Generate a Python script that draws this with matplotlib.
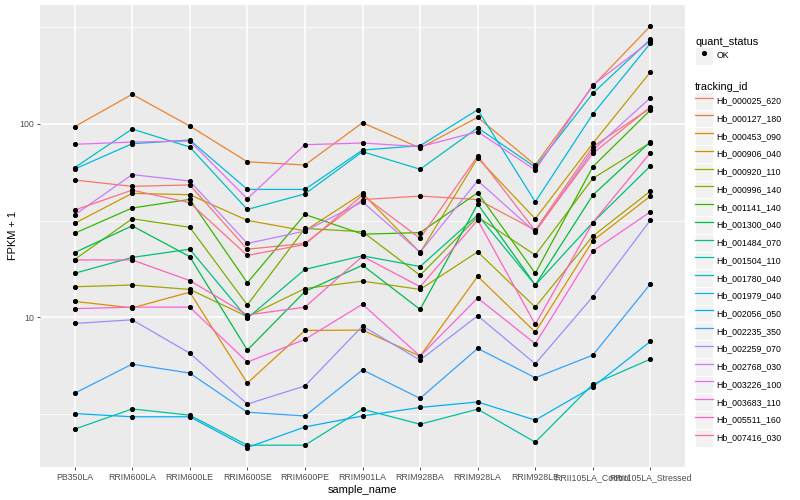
import matplotlib
matplotlib.use("Agg")
import matplotlib.pyplot as plt
from matplotlib.lines import Line2D
from matplotlib.patches import Rectangle
from matplotlib.legend_handler import HandlerLine2D
from matplotlib.ticker import NullFormatter

plt.rcParams['font.family'] = ['Liberation Sans', 'DejaVu Sans']

# samples on the x axis
samples = ["PB350LA", "RRIM600LA", "RRIM600LE", "RRIM600SE", "RRIM600PE",
           "RRIM901LA", "RRIM928BA", "RRIM928LA", "RRIM928LE",
           "RRII105LA_Control", "RRII105LA_Stressed"]

tracking_ids = ["Hb_000025_620", "Hb_000127_180", "Hb_000453_090", "Hb_000906_040",
                "Hb_000920_110", "Hb_000996_140", "Hb_001141_140", "Hb_001300_040",
                "Hb_001484_070", "Hb_001504_110", "Hb_001780_040", "Hb_001979_040",
                "Hb_002056_050", "Hb_002235_350", "Hb_002259_070", "Hb_002768_030",
                "Hb_003226_100", "Hb_003683_110", "Hb_005511_160", "Hb_007416_030"]

# ggplot default hue palette, 20 levels
palette = ["#F8766D", "#EA8331", "#D89000", "#C09B00", "#A3A500", "#7CAE00",
           "#39B600", "#00BB4E", "#00BF7D", "#00C1A3", "#00BFC4", "#00BAE0",
           "#00B0F6", "#35A2FF", "#9590FF", "#C77CFF", "#E76BF3", "#FA62DB",
           "#FF62BC", "#FF6C91"]

# FPKM + 1
hb_000025_620 = [51.2, 47.5, 48.3, 22.5, 24.1, 40.6, 42.3, 40.6, 28.2, 76.1, 120.5]
hb_000127_180 = [96.5, 141.8, 97.3, 63.6, 61.2, 101.2, 74.9, 107.9, 61.2, 156.6, 319.6]
hb_000453_090 = [12.1, 11.2, 13.5, 4.58, 8.57, 8.6, 6.31, 16.3, 8.4, 24.9, 42.3]
hb_000906_040 = [30.6, 43.7, 43.0, 31.7, 28.0, 43.7, 21.6, 66.5, 32.3, 79.2, 184.9]
hb_000920_110 = [14.4, 14.7, 13.95, 10.1, 14.1, 15.4, 13.95, 21.8, 11.3, 26.3, 44.9]
hb_000996_140 = [19.9, 32.3, 29.2, 11.6, 28.8, 27.7, 16.5, 33.0, 21.0, 52.2, 79.8]
hb_001141_140 = [27.2, 36.7, 40.7, 15.1, 34.0, 26.9, 27.4, 44.0, 16.9, 60.0, 117.7]
hb_001300_040 = [21.6, 29.7, 20.6, 6.78, 13.6, 18.6, 11.0, 38.5, 14.7, 42.8, 80.7]
hb_001484_070 = [16.9, 20.4, 22.5, 9.9, 17.7, 20.8, 18.3, 33.8, 14.7, 30.9, 60.5]
hb_001504_110 = [2.65, 3.37, 3.13, 2.19, 2.19, 3.36, 2.81, 3.36, 2.27, 4.52, 6.09]
hb_001780_040 = [59.3, 93.9, 75.8, 36.1, 43.4, 71.7, 58.2, 95.3, 59.7, 143.5, 272.9]
hb_001979_040 = [58.3, 78.8, 82.4, 45.8, 45.8, 73.1, 77.0, 118.1, 39.5, 112.2, 260.2]
hb_002056_050 = [3.19, 3.07, 3.07, 2.13, 2.72, 3.10, 3.43, 3.66, 2.95, 4.38, 7.52]
hb_002235_350 = [4.06, 5.74, 5.16, 3.24, 3.10, 5.36, 3.82, 6.92, 4.88, 6.39, 14.9]
hb_002259_070 = [9.31, 9.72, 6.54, 3.57, 4.43, 9.02, 6.02, 10.2, 5.76, 12.8, 31.8]
hb_002768_030 = [33.8, 54.6, 50.6, 24.1, 27.9, 39.5, 21.7, 50.8, 27.6, 73.1, 136.2]
hb_003226_100 = [78.3, 80.4, 81.4, 41.0, 77.9, 79.5, 76.1, 90.9, 57.7, 158.5, 267.4]
hb_003683_110 = [11.1, 11.3, 11.3, 5.88, 7.7, 11.7, 6.31, 12.6, 7.31, 22.0, 35.1]
hb_005511_160 = [19.8, 19.8, 15.5, 10.3, 11.3, 20.7, 14.4, 31.8, 9.2, 30.9, 70.8]
hb_007416_030 = [35.8, 45.4, 39.1, 20.9, 23.8, 42.8, 25.6, 68.1, 28.0, 70.3, 122.0]

fpkm = [hb_000025_620, hb_000127_180, hb_000453_090, hb_000906_040, hb_000920_110,
        hb_000996_140, hb_001141_140, hb_001300_040, hb_001484_070, hb_001504_110,
        hb_001780_040, hb_001979_040, hb_002056_050, hb_002235_350, hb_002259_070,
        hb_002768_030, hb_003226_100, hb_003683_110, hb_005511_160, hb_007416_030]


class KeyHandler(HandlerLine2D):
    # grey ggplot-like legend key behind the line
    def create_artists(self, legend, orig_handle, xdescent, ydescent,
                       width, height, fontsize, trans):
        bg = Rectangle((-xdescent, -ydescent), width, height,
                       facecolor="#F2F2F2", edgecolor="white", lw=0.7,
                       transform=trans)
        arts = super().create_artists(legend, orig_handle, xdescent, ydescent,
                                      width, height, fontsize, trans)
        return [bg] + list(arts)


fig = plt.figure(figsize=(8, 5), dpi=100)
ax = fig.add_axes([40 / 800, 33 / 500, 645 / 800, 462 / 500])
ax.set_facecolor("#EBEBEB")
for s in ax.spines.values():
    s.set_visible(False)

x = list(range(len(samples)))
for vals, col in zip(fpkm, palette):
    ax.plot(x, vals, color=col, lw=0.9, zorder=2)
for vals in fpkm:
    ax.plot(x, vals, ls="none", marker="o", color="black", ms=2.7, zorder=3)

ax.set_yscale("log")
ax.set_ylim(1.69, 410)
ax.set_xlim(-0.6, len(samples) - 0.4)
ax.set_yticks([10, 100])
ax.set_yticklabels(["10", "100"])
ax.set_yticks([10 ** 0.5, 10 ** 1.5, 10 ** 2.5], minor=True)
ax.yaxis.set_minor_formatter(NullFormatter())
ax.set_xticks(x)
ax.set_xticklabels(samples)

ax.grid(True, which="major", color="white", lw=1.1, zorder=0)
ax.grid(True, which="minor", axis="y", color="white", lw=0.55, zorder=0)
ax.set_axisbelow(True)
ax.tick_params(which="major", length=2.2, width=0.6, color="#333333",
               labelsize=6.3, labelcolor="#4D4D4D", pad=2)
ax.tick_params(which="minor", length=0)

ax.set_xlabel("sample_name", fontsize=7.9, labelpad=2)
ax.set_ylabel("FPKM + 1", fontsize=7.9, labelpad=1)

hmap = {Line2D: KeyHandler(numpoints=1)}
ok = Line2D([], [], ls="none", marker="o", color="black", ms=2.7)
leg1 = fig.legend([ok], ["OK"], title="quant_status", loc="upper left",
                  bbox_to_anchor=(695 / 800, 1 - 37 / 500), frameon=False,
                  fontsize=6.3, title_fontsize=7.9, handlelength=2.0,
                  handleheight=2.74, labelspacing=0, handletextpad=0.45,
                  borderpad=0, borderaxespad=0, alignment="left",
                  handler_map=hmap)

keys = [Line2D([], [], color=c, lw=0.9) for c in palette]
leg2 = fig.legend(keys, tracking_ids, title="tracking_id", loc="upper left",
                  bbox_to_anchor=(695 / 800, 1 - 82 / 500), frameon=False,
                  fontsize=6.3, title_fontsize=7.9, handlelength=2.0,
                  handleheight=2.74, labelspacing=0, handletextpad=0.45,
                  borderpad=0, borderaxespad=0, alignment="left",
                  handler_map=hmap)

fig.savefig("out.png", dpi=100)
